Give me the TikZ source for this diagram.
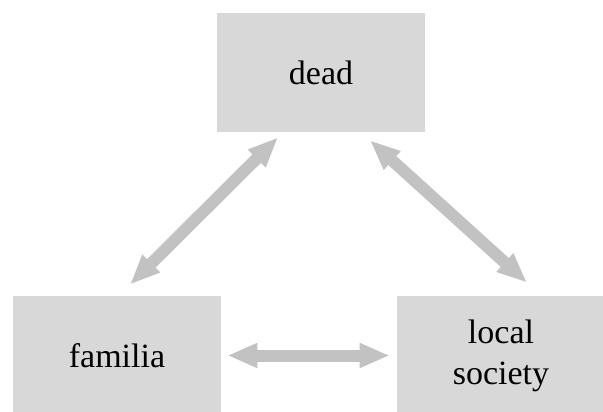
\documentclass[tikz,border=0pt]{standalone}
\usepackage{fontspec}
\setmainfont{Liberation Serif}
\usepackage{tikz}
\usetikzlibrary{arrows.meta}
\definecolor{boxgray}{HTML}{D8D8D8}
\definecolor{arrgray}{HTML}{C2C2C2}
\begin{document}
\begin{tikzpicture}[x=0.5pt,y=-0.5pt,
  bx/.style={fill=boxgray,inner sep=0pt,align=center,minimum width=104pt,minimum height=59.5pt,font=\fontsize{17}{20.5}\selectfont},
  ar/.style={{Triangle[length=15pt,width=11.5pt]}-{Triangle[length=15pt,width=11.5pt]},line width=6pt,draw=arrgray}]
\useasboundingbox (0,0) rectangle (603,411);
\node[bx] (dead) at (321,72.5) {dead};
\node[bx] (fam) at (117,355.5) {familia};
\node[bx] (loc) at (501,355.5) {local\\society};
\draw[ar] ([shift={(13,-11)}]fam.north) -- ([shift={(-43,5)}]dead.south);
\draw[ar] ([shift={(49,8)}]dead.south) -- ([shift={(26,-13)}]loc.north);
\draw[ar,shorten <=3pt,shorten >=3.5pt] (fam) -- (loc);
\end{tikzpicture}
\end{document}
